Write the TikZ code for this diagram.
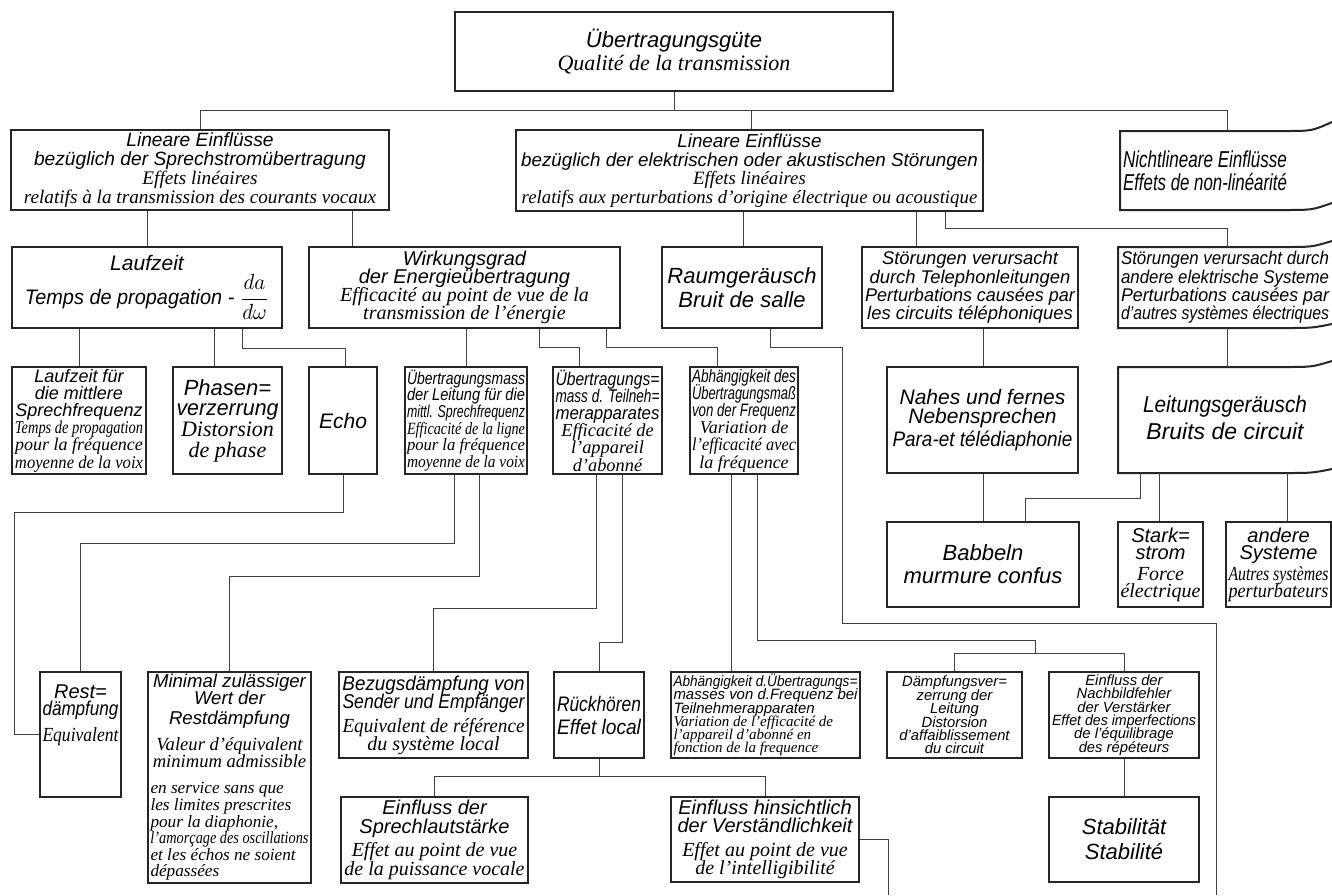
\documentclass[tikz,border=0pt]{standalone}
\usepackage{fontspec}
\usepackage{graphicx}
\newfontfamily\gs{Liberation Sans}
\newfontfamily\fr{Liberation Serif}
\newsavebox\flsave
\newlength\flw
\newcommand\fl[1]{\sbox\flsave{#1}\ifdim\wd\flsave>\flw\resizebox{\flw}{\height}{\usebox\flsave}\else\usebox\flsave\fi}
\newcommand\Gl[1]{\fl{\gs\itshape #1}}
\newcommand\Fl[1]{\fl{\fr\itshape #1}}
\tikzset{
 bx/.style={draw=black!85, line width=1pt, inner sep=0pt, align=center},
 frm/.style={draw=none, inner sep=0pt},
 cn/.style={draw=black!75, line width=0.45pt},
 bxl/.style={draw=black!85, line width=1pt},
 txt/.style n args={3}{font={\fontsize{#1}{#2}\selectfont\lineskiplimit=-30pt\lineskip=0pt\setlength{\flw}{#3}}},
 wh/.style 2 args={minimum width=#1, minimum height=#2},
}
\begin{document}
\begin{tikzpicture}[x=0.5pt,y=-0.5pt]
\useasboundingbox (0,0) rectangle (1332,895);
\fill[white] (0,0) rectangle (1332,895);

% row 0
\node[bx, wh={219pt}{39.5pt}, txt={11}{11.5}{212pt}] (T) at (674,51.5) {\Gl{Übertragungsgüte}\\\Fl{Qualité de la transmission}};

% row 1
\node[bx, wh={189pt}{40pt}, txt={9.6}{9.6}{186pt}] (A1) at (200,170) {\Gl{Lineare Einflüsse}\\\Gl{bezüglich der Sprechstromübertragung}\\\Fl{Effets linéaires}\\\Fl{relatifs à la transmission des courants vocaux}};
\node[bx, wh={233.5pt}{40.5pt}, txt={9.4}{9.3}{230pt}] (A2) at (749.5,170.5) {\Gl{Lineare Einflüsse}\\\Gl{bezüglich der elektrischen oder akustischen Störungen}\\\Fl{Effets linéaires}\\\Fl{relatifs aux perturbations d’origine électrique ou acoustique}};
\node[frm, wh={85pt}{39.5pt}, txt={11.5}{11.5}{82pt}, align=left] (A3) at (1205,170.5) {\Gl{Nichtlineare Einflüsse}\\\Gl{Effets de non-linéarité}};
\draw[bxl] (1332,122) .. controls (1312,131) .. (1285,131) -- (1120,131) -- (1120,210) -- (1285,210) .. controls (1312,210) .. (1332,203);

% row 2
\node[bx, wh={135pt}{40.5pt}, txt={10.5}{17}{122pt}] (B1) at (147,287.5) {\Gl{Laufzeit}\\\Gl{Temps de propagation - $\displaystyle\frac{da}{d\omega}$}};
\node[bx, wh={155.5pt}{40.5pt}, txt={10}{9}{150pt}] (B2) at (464.5,287.5) {\Gl{Wirkungsgrad}\\\Gl{der Energieübertragung}\\\Fl{Efficacité au point de vue de la}\\\Fl{transmission de l’énergie}};
\node[bx, wh={80pt}{40.5pt}, txt={11}{12}{76pt}] (B3) at (742,287.5) {\Gl{Raumgeräusch}\\\Gl{Bruit de salle}};
\node[bx, wh={108pt}{40.5pt}, txt={9.2}{9.2}{105pt}] (B4) at (970,287.5) {\Gl{Störungen verursacht}\\\Gl{durch Telephonleitungen}\\\Gl{Perturbations causées par}\\\Gl{les circuits téléphoniques}};
\node[frm, wh={107pt}{40.5pt}, txt={9.2}{9.2}{104pt}, align=left] (B5) at (1225,287.5) {\Gl{Störungen verursacht durch}\\\Gl{andere elektrische Systeme}\\\Gl{Perturbations causées par}\\\Gl{d’autres systèmes électriques}};
\draw[bxl] (1332,241) .. controls (1312,247) .. (1285,247) -- (1118,247) -- (1118,328) -- (1285,328) .. controls (1312,328) .. (1332,324);

% row 3
\node[bx, wh={67pt}{53.5pt}, txt={9}{8.6}{64pt}] (C1) at (79,420.5) {\Gl{Laufzeit für}\\\Gl{die mittlere}\\\Gl{Sprechfrequenz}\\\Fl{Temps de propagation}\\\Fl{pour la fréquence}\\\Fl{moyenne de la voix}};
\node[bx, wh={54.5pt}{53.5pt}, txt={11}{10.3}{51pt}] (C2) at (227.5,420.5) {\Gl{Phasen=}\\\Gl{verzerrung}\\\Fl{Distorsion}\\\Fl{de phase}};
\node[bx, wh={34pt}{53.5pt}, txt={10.5}{12}{32pt}] (C3) at (343,420.5) {\Gl{Echo}};
\node[bx, wh={61pt}{53.5pt}, txt={8.6}{8.3}{59pt}] (C4) at (466,420.5) {\Gl{Übertragungsmass}\\\Gl{der Leitung für die}\\\Gl{mittl. Sprechfrequenz}\\\Fl{Efficacité de la ligne}\\\Fl{pour la fréquence}\\\Fl{moyenne de la voix}};
\node[bx, wh={54.5pt}{53.5pt}, txt={9.2}{8.6}{52pt}] (C5) at (607.5,420.5) {\Gl{Übertragungs=}\\\Gl{mass d. Teilneh=}\\\Gl{merapparates}\\\Fl{Efficacité de}\\\Fl{l’appareil}\\\Fl{d’abonné}};
\node[bx, wh={54pt}{53.5pt}, txt={9}{8.6}{52pt}] (C6) at (744,420.5) {\Gl{Abhängigkeit des}\\\Gl{Übertragungsmaß}\\\Gl{von der Frequenz}\\\Fl{Variation de}\\\Fl{l’efficacité avec}\\\Fl{la fréquence}};
\node[bx, wh={95.5pt}{53pt}, txt={10.5}{9.3}{90pt}] (C7) at (982.5,420) {\Gl{Nahes und fernes}\\\Gl{Nebensprechen}\\[2.3pt]\Gl{Para-et télédiaphonie}};
\node[frm, wh={107pt}{53pt}, txt={11.5}{13.5}{82pt}, align=center] (C8) at (1225,418) {\Gl{Leitungsgeräusch}\\\Gl{Bruits de circuit}};
\draw[bxl] (1332,361) .. controls (1312,367) .. (1285,367) -- (1118,367) -- (1118,473) -- (1285,473) .. controls (1312,473) .. (1332,469);

% row 4
\node[bx, wh={96pt}{42.5pt}, txt={11}{11.5}{88pt}] (D1) at (983,564.5) {\Gl{Babbeln}\\\Gl{murmure confus}};
\node[bx, wh={42.5pt}{42.5pt}, txt={10}{8.5}{40pt}] (D2) at (1160.5,564.5) {\Gl{Stark=}\\\Gl{strom}\\[2pt]\Fl{Force}\\\Fl{électrique}};
\node[bx, wh={52.5pt}{42.5pt}, txt={10}{8.5}{50pt}] (D3) at (1278.5,564.5) {\Gl{andere}\\\Gl{Systeme}\\[2pt]\Fl{Autres systèmes}\\\Fl{perturbateurs}};

% row 5
\node[bx, wh={40.5pt}{62.5pt}] (E1) at (80.5,734.5) {};
\node[inner sep=0pt, align=center, txt={10}{8.5}{38pt}] (E1t) at (80.5,715) {\Gl{Rest=}\\\Gl{dämpfung}\\[4.5pt]\Fl{Equivalent}};
\node[bx, wh={81.5pt}{105.5pt}, txt={9.3}{8.3}{79pt}, align=left] (E2) at (229.5,777.5) {%
\makebox[\flw]{\Gl{Minimal zulässiger}}\\
\makebox[\flw]{\Gl{Wert der}}\\[1.5pt]
\makebox[\flw]{\Gl{Restdämpfung}}\\[5pt]
\makebox[\flw]{\Fl{Valeur d’équivalent}}\\
\makebox[\flw]{\Fl{minimum admissible}}\\[5pt]
\Fl{\fontsize{8.6}{8}\selectfont en service sans que}\\
\Fl{\fontsize{8.6}{8}\selectfont les limites prescrites}\\
\Fl{\fontsize{8.6}{8}\selectfont pour la diaphonie,}\\
\Fl{\fontsize{8.6}{8}\selectfont l’amorçage des oscillations}\\
\Fl{\fontsize{8.6}{8}\selectfont et les échos ne soient}\\
\Fl{\fontsize{8.6}{8}\selectfont dépassées}};
\node[bx, wh={94.5pt}{43pt}, txt={10}{9}{91pt}] (E3) at (433.5,715) {\Gl{Bezugsdämpfung von}\\\Gl{Sender und Empfänger}\\[3pt]\Fl{Equivalent de référence}\\\Fl{du système local}};
\node[bx, wh={45pt}{43pt}, txt={10.5}{11.5}{42pt}] (E4) at (599,715) {\Gl{Rückhören}\\\Gl{Effet local}};
\node[bx, wh={94.5pt}{43pt}, txt={7.5}{6.6}{92pt}, align=left] (E5) at (765.5,715) {\Gl{Abhängigkeit d.Übertragungs=}\\\Gl{masses von d.Frequenz bei}\\\Gl{Teilnehmerapparaten}\\\Fl{Variation de l’efficacité de}\\\Fl{l’appareil d’abonné en}\\\Fl{fonction de la frequence}};
\node[bx, wh={67.5pt}{43pt}, txt={7.4}{6.7}{64pt}] (E6) at (954.5,715) {\Gl{Dämpfungsver=}\\\Gl{zerrung der}\\\Gl{Leitung}\\\Gl{Distorsion}\\\Gl{d’affaiblissement}\\\Gl{du circuit}};
\node[bx, wh={75pt}{43pt}, txt={7.4}{6.7}{72pt}] (E7) at (1124,715) {\Gl{Einfluss der}\\\Gl{Nachbildfehler}\\\Gl{der Verstärker}\\\Gl{Effet des imperfections}\\\Gl{de l’équilibrage}\\\Gl{des répéteurs}};

% row 6
\node[bx, wh={93.5pt}{43pt}, txt={10}{9.3}{90pt}] (F1) at (434.5,840) {\Gl{Einfluss der}\\\Gl{Sprechlautstärke}\\[2.5pt]\Fl{Effet au point de vue}\\\Fl{de la puissance vocale}};
\node[bx, wh={94pt}{42.5pt}, txt={10}{8.8}{90pt}] (F2) at (765,839.5) {\Gl{Einfluss hinsichtlich}\\\Gl{der Verständlichkeit}\\[3.5pt]\Fl{Effet au point de vue}\\\Fl{de l’intelligibilité}};
\node[bx, wh={75pt}{42.5pt}, txt={11}{12.5}{72pt}] (F3) at (1124,839.5) {\Gl{Stabilität}\\\Gl{Stabilité}};

% connectors
\coordinate (busR) at (1227,110);
\draw[cn] (T.south) -- (T.south |- busR);
\draw[cn] (A1.north) |- (busR) -- (A3.north -| busR);
\draw[cn] (A2.north -| 751,0) -- (751,110);
\draw[cn] (A1.south -| 147,0) -- (B1.north -| 147,0);
\draw[cn] (A1.south -| 352,0) -- (B2.north -| 352,0);
\draw[cn] (A2.south -| 743,0) -- (B3.north -| 743,0);
\draw[cn] (A2.south -| 916,0) -- (B4.north -| 916,0);
\draw[cn] (A2.south -| 945,0) |- (1227,228) -- (B5.north -| 1227,0);
\draw[cn] (B1.south -| 79,0) -- (C1.north);
\draw[cn] (B1.south -| 214,0) -- (C2.north -| 214,0);
\draw[cn] (B1.south -| 242,0) |- (345,348) -- (C3.north -| 345,0);
\draw[cn] (B2.south -| 466,0) -- (C4.north);
\draw[cn] (B2.south -| 539,0) |- (579,347) -- (C5.north -| 579,0);
\draw[cn] (B2.south -| 606,0) |- (717,347) -- (C6.north -| 717,0);
\draw[cn] (B3.south -| 770,0) |- (842,347) |- (1216,623) -- (1216,895);
\draw[cn] (B4.south -| 983,0) -- (C7.north -| 983,0);
\draw[cn] (1227,328) -- (1227,367);
\draw[cn] (C7.south -| 983,0) -- (D1.north -| 983,0);
\draw[cn] (1140,473) |- (1025,498) -- (D1.north -| 1025,0);
\draw[cn] (1159,473) -- (D2.north -| 1159,0);
\draw[cn] (1287,473) -- (D3.north -| 1287,0);
\draw[cn] (C3.south) |- (14,512) |- (E1.west);
\draw[cn] (C4.south -| 454,0) |- (E1.north |- 0,543) -- (E1.north);
\draw[cn] (C4.south -| 479,0) |- (E2.north |- 0,576) -- (E2.north);
\draw[cn] (C5.south -| 596,0) |- (E3.north |- 0,608) -- (E3.north);
\draw[cn] (C5.south -| 622,0) |- (E4.north |- 0,642) -- (E4.north);
\draw[cn] (C6.south -| 731,0) -- (E5.north -| 731,0);
\draw[cn] (C6.south -| 757,0) |- (1035,640) -- (1035,653);
\draw[cn] (E6.north) |- (1035,653) -| (E7.north);
\draw[cn] (E4.south) -- (E4.south |- 0,776);
\draw[cn] (F1.north) |- (599,776) -| (F2.north);
\draw[cn] (F2.east) -| (888,895);
\draw[cn] (E7.south) -- (F3.north);
\end{tikzpicture}
\end{document}
